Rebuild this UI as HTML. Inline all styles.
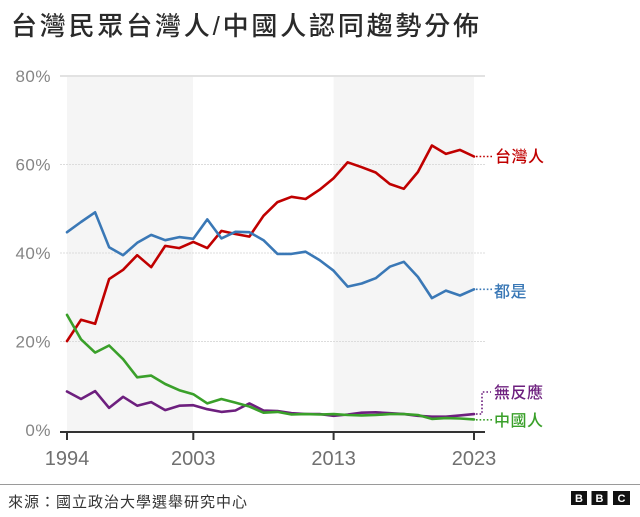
<!DOCTYPE html>
<html><head><meta charset="utf-8"><style>
html,body{margin:0;padding:0;background:#fff;}
svg{display:block;}
.cjk{font-family:"Liberation Sans","Noto Sans CJK TC","Noto Sans CJK SC",sans-serif;}
.num{font-family:"Liberation Sans",sans-serif;}
</style></head><body>
<svg width="640" height="517" viewBox="0 0 640 517" xmlns="http://www.w3.org/2000/svg">
<rect width="640" height="517" fill="#fff"/>
<!-- title -->
<text x="11" y="35" class="cjk" font-size="26" font-weight="500" letter-spacing="2.8" fill="#2a2a2a">台灣民眾台灣人/中國人認同趨勢分佈</text>

<!-- shaded bands -->
<rect x="67" y="77" width="126" height="354" fill="#f5f5f5"/>
<rect x="333.6" y="77" width="140.4" height="354" fill="#f5f5f5"/>

<!-- gridlines -->
<line x1="60" y1="76" x2="485" y2="76" stroke="#e2e2e2" stroke-width="2"/>
<line x1="60" y1="164.5" x2="485" y2="164.5" stroke="#dcdcdc" stroke-width="1" stroke-dasharray="2 1"/>
<line x1="60" y1="253" x2="485" y2="253" stroke="#dcdcdc" stroke-width="1" stroke-dasharray="2 1"/>
<line x1="60" y1="341.5" x2="485" y2="341.5" stroke="#dcdcdc" stroke-width="1" stroke-dasharray="2 1"/>

<!-- y labels -->
<g class="num" font-size="17" fill="#858585" text-anchor="end" letter-spacing="0.5">
<text x="51" y="82">80%</text>
<text x="51" y="170.5">60%</text>
<text x="51" y="259">40%</text>
<text x="51" y="347.5">20%</text>
<text x="51" y="436">0%</text>
</g>

<!-- series -->
<g fill="none" stroke-width="2.6" stroke-linejoin="round" stroke-linecap="round">
<polyline stroke="#c00000" points="67.0,341.1 81.0,319.8 95.1,323.8 109.1,279.1 123.1,269.8 137.2,255.2 151.2,267.2 165.2,245.9 179.3,248.1 193.3,241.9 207.3,248.1 221.4,230.9 235.4,234.0 249.4,236.6 263.5,215.8 277.5,202.1 291.5,196.8 305.6,199.0 319.6,189.7 333.6,178.2 347.7,162.3 361.7,167.2 375.7,172.5 389.8,184.0 403.8,188.8 417.9,172.0 431.9,145.5 445.9,153.9 460.0,149.9 474.0,156.5"/>
<polyline stroke="#3a78b6" points="67.0,232.2 81.0,222.0 95.1,212.3 109.1,247.2 123.1,255.2 137.2,242.8 151.2,234.9 165.2,240.2 179.3,237.1 193.3,238.8 207.3,219.4 221.4,238.4 235.4,231.8 249.4,232.2 263.5,240.2 277.5,253.9 291.5,253.9 305.6,251.7 319.6,260.1 333.6,270.7 347.7,286.6 361.7,283.5 375.7,278.2 389.8,266.7 403.8,261.8 417.9,276.9 431.9,298.1 445.9,290.6 460.0,295.5 474.0,289.3"/>
<polyline stroke="#6d1f7e" points="67.0,391.5 81.0,399.0 95.1,391.1 109.1,407.9 123.1,396.8 137.2,405.7 151.2,402.1 165.2,410.1 179.3,405.7 193.3,405.2 207.3,409.2 221.4,411.9 235.4,410.5 249.4,403.4 263.5,410.5 277.5,411.0 291.5,413.2 305.6,414.1 319.6,414.1 333.6,415.8 347.7,414.5 361.7,412.7 375.7,412.3 389.8,413.2 403.8,414.1 417.9,415.8 431.9,416.7 445.9,416.7 460.0,415.4 474.0,414.1"/>
<polyline stroke="#3aa02a" points="67.0,314.9 81.0,339.3 95.1,352.6 109.1,345.5 123.1,359.2 137.2,377.3 151.2,375.6 165.2,384.0 179.3,390.2 193.3,394.2 207.3,403.4 221.4,399.0 235.4,402.6 249.4,406.5 263.5,412.7 277.5,411.9 291.5,414.5 305.6,414.1 319.6,414.5 333.6,414.1 347.7,415.0 361.7,415.4 375.7,415.0 389.8,414.1 403.8,414.1 417.9,415.0 431.9,418.9 445.9,418.1 460.0,418.5 474.0,419.4"/>
</g>

<!-- connectors -->
<g fill="none" stroke-width="1.6" stroke-dasharray="1.6 2">
<line x1="476" y1="156.5" x2="493" y2="156.5" stroke="#c00000"/>
<line x1="476" y1="289.3" x2="492" y2="289.3" stroke="#3a78b6"/>
<polyline points="476,414 482,414 482,392 491,392" stroke="#6d1f7e"/>
<line x1="476" y1="419.8" x2="492" y2="419.8" stroke="#3aa02a"/>
</g>

<!-- series labels -->
<g class="cjk" font-size="16" font-weight="500" letter-spacing="0.5">
<text x="495" y="162" fill="#c00000">台灣人</text>
<text x="494" y="297" fill="#3a78b6">都是</text>
<text x="494" y="398" fill="#6d1f7e">無反應</text>
<text x="494" y="426" fill="#3aa02a">中國人</text>
</g>

<!-- x axis -->
<line x1="60" y1="432" x2="485" y2="432" stroke="#333" stroke-width="2"/>
<g stroke="#333" stroke-width="2">
<line x1="67" y1="432" x2="67" y2="440"/>
<line x1="193.3" y1="432" x2="193.3" y2="440"/>
<line x1="333.6" y1="432" x2="333.6" y2="440"/>
<line x1="474" y1="432" x2="474" y2="440"/>
</g>
<g class="num" font-size="20" fill="#707070" text-anchor="middle">
<text x="67" y="465">1994</text>
<text x="193.3" y="465">2003</text>
<text x="333.6" y="465">2013</text>
<text x="474" y="465">2023</text>
</g>

<!-- footer -->
<line x1="0" y1="484.5" x2="640" y2="484.5" stroke="#9a9a9a" stroke-width="1"/>
<text x="8" y="507" class="cjk" font-size="15" letter-spacing="1" fill="#333">來源：國立政治大學選舉研究中心</text>
<g>
<rect x="571" y="491" width="16" height="14" fill="#111"/>
<rect x="591.5" y="491" width="16" height="14" fill="#111"/>
<rect x="613" y="491" width="17" height="14" fill="#111"/>
<g class="num" font-size="11" font-weight="bold" fill="#fff" text-anchor="middle">
<text x="579" y="502">B</text>
<text x="599.5" y="502">B</text>
<text x="621.5" y="502">C</text>
</g>
</g>
</svg>
</body></html>
